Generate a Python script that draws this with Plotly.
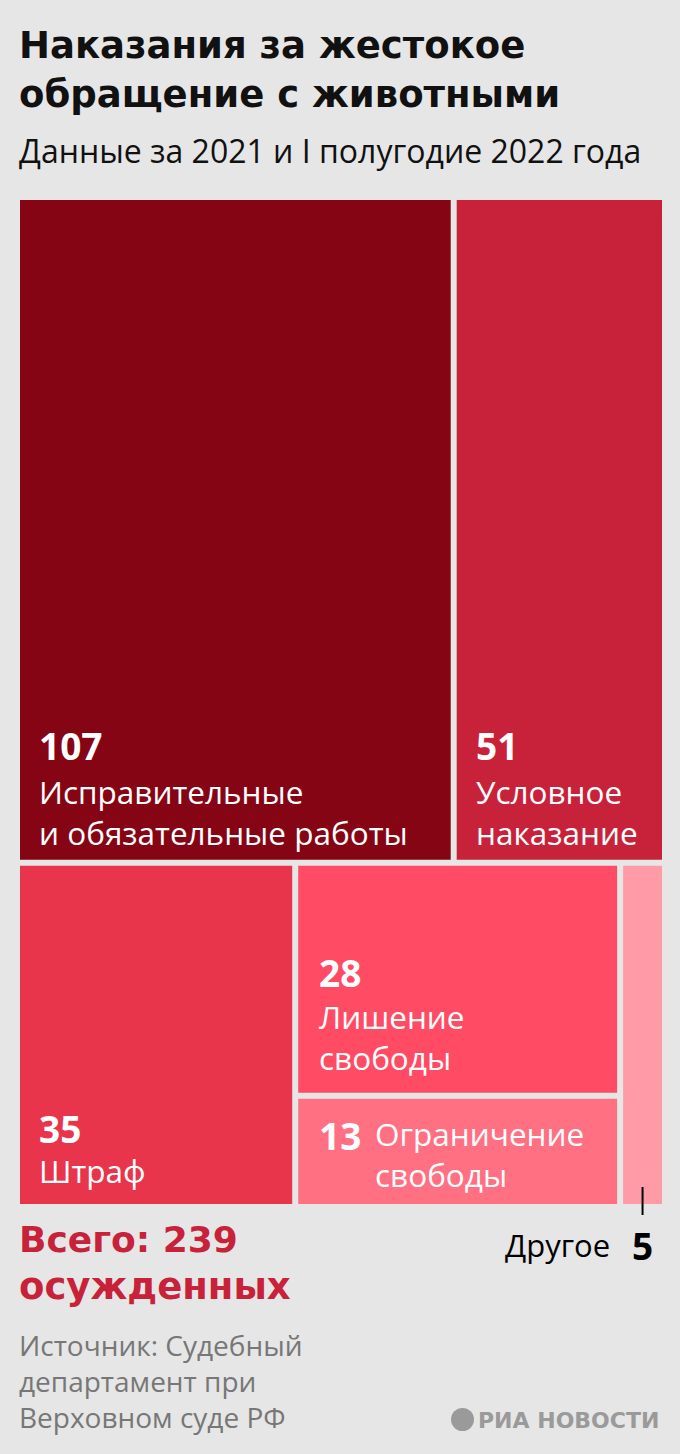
import plotly.graph_objects as go

# ---- data ----
categories = ["Исправительные<br>и обязательные работы", "Условное<br>наказание", "Штраф",
              "Лишение<br>свободы", "Ограничение<br>свободы", "Другое"]
values = [107, 51, 35, 28, 13, 5]
colors = ["#860515", "#c8223a", "#e8354c", "#ff4b63", "#ff7083", "#ff9aa7"]
total = sum(values)

W, H = 680, 1454
ML, MR, MT, MB = 20, 18, 200, 250
PW, PH = W - ML - MR, H - MT - MB
BG = "#e6e6e6"
gx, gy = 6 / PW, 6 / PH

# ---- layout of the tiles computed from the values ----
top_vals = values[0:2]
bot_vals = [values[2], values[3] + values[4], values[5]]
top_sum, bot_sum = sum(top_vals), sum(bot_vals)
avail_h = 1 - gy
top_h = avail_h * top_sum / total
bot_y0 = top_h + gy

rects = []  # (x0, y0, x1, y1) in axis units, y grows downward
aw = 1 - gx
x = 0
for v in top_vals:
    w = aw * v / top_sum
    rects.append((x, 0, x + w, top_h))
    x += w + gx
aw = 1 - 2 * gx
x = 0
bw = [aw * v / bot_sum for v in bot_vals]
rects.append((x, bot_y0, x + bw[0], 1))
x += bw[0] + gx
col_h = (1 - bot_y0) - gy
h28 = col_h * values[3] / (values[3] + values[4])
rects.append((x, bot_y0, x + bw[1], bot_y0 + h28))
rects.append((x, bot_y0 + h28 + gy, x + bw[1], 1))
x += bw[1] + gx
rects.append((x, bot_y0, x + bw[2], 1))

fig = go.Figure()
fig.add_trace(go.Scatter(x=[0, 1], y=[0, 1], mode="markers", marker=dict(opacity=0),
                         hoverinfo="skip", showlegend=False))

for (x0, y0, x1, y1), c in zip(rects, colors):
    fig.add_shape(type="rect", xref="x", yref="y", x0=x0, x1=x1, y0=y0, y1=y1,
                  fillcolor=c, line=dict(width=0), layer="below")

FONT = "Open Sans"
HEAD = "DejaVu Sans"
ann = []

def box_label(i, num_off, lab_off, xs=17, inline=False):
    x0, y0, x1, y1 = rects[i]
    ann.append(dict(x=x0, y=y1, xref="x", yref="y", xanchor="left", yanchor="middle",
                    xshift=xs, yshift=num_off, showarrow=False,
                    text=f"<b>{values[i]}</b>",
                    font=dict(family=FONT, size=37, color="white")))
    lx = xs + (56 if inline else 0)
    ann.append(dict(x=x0, y=y1, xref="x", yref="y", xanchor="left", yanchor="middle",
                    xshift=lx, yshift=lab_off, showarrow=False, text=categories[i],
                    align="left", font=dict(family=FONT, size=31.5, color="white")))

box_label(0, 114, 48)
box_label(1, 114, 48)
box_label(2, 76, 34)
box_label(3, 120, 56, xs=19)
box_label(4, 69, 50, xs=19, inline=True)

# "Другое" callout (paper refs so the tick is not clipped by the plot area)
x0, y0, x1, y1 = rects[5]
xc = (x0 + x1) / 2
fig.add_shape(type="line", xref="paper", yref="paper", x0=xc, x1=xc,
              y0=1 - (y1 - 17 / PH), y1=1 - (y1 + 11 / PH),
              line=dict(color="black", width=2))
ann.append(dict(x=xc, y=y1, xref="x", yref="y", xanchor="center", yanchor="middle",
                yshift=-41, showarrow=False, text=f"<b>{values[5]}</b>",
                font=dict(family=FONT, size=37, color="black")))
ann.append(dict(x=xc, y=y1, xref="x", yref="y", xanchor="right", yanchor="middle",
                xshift=-31, yshift=-41, showarrow=False, text=categories[5],
                font=dict(family=FONT, size=31, color="black")))

def py(p):  # pixel row -> paper y
    return (H - MB - p) / PH

def px(p):
    return (p - ML) / PW

def txt(xp, yp, text, size, color, bold=False, anchor="left", family=FONT):
    ann.append(dict(x=px(xp), y=py(yp), xref="paper", yref="paper", xanchor=anchor,
                    yanchor="middle", showarrow=False,
                    text=f"<b>{text}</b>" if bold else text,
                    font=dict(family=family, size=size, color=color)))

txt(17, 46, "Наказания за жестокое", 37, "#111111", bold=True, family=HEAD)
txt(17, 94, "обращение с животными", 37, "#111111", bold=True, family=HEAD)
txt(17, 150, "Данные за 2021 и I полугодие 2022 года", 32, "#111111")
txt(17, 1239, f"Всего: {total}", 36, "#c8223a", bold=True, family=HEAD)
txt(17, 1286, "осужденных", 37, "#c8223a", bold=True, family=HEAD)
txt(17, 1345, "Источник: Судебный", 28, "#777777")
txt(17, 1381, "департамент при", 28, "#777777")
txt(17, 1417, "Верховном суде РФ", 28, "#777777")
txt(661, 1420, "РИА НОВОСТИ", 22, "#9a9a9a", bold=True, anchor="right", family=HEAD)

fig.add_shape(type="circle", xref="paper", yref="paper",
              x0=px(451), x1=px(474), y0=py(1431), y1=py(1408),
              fillcolor="#9a9a9a", line=dict(width=0))

fig.update_layout(
    width=W, height=H, margin=dict(l=ML, r=MR, t=MT, b=MB),
    paper_bgcolor=BG, plot_bgcolor=BG, annotations=ann, showlegend=False,
    xaxis=dict(range=[0, 1], visible=False, fixedrange=True),
    yaxis=dict(range=[1, 0], visible=False, fixedrange=True),
)
fig.write_html("out.html", config={"displayModeBar": False},
               post_script="document.body.style.margin='0';document.body.style.overflow='hidden';")
